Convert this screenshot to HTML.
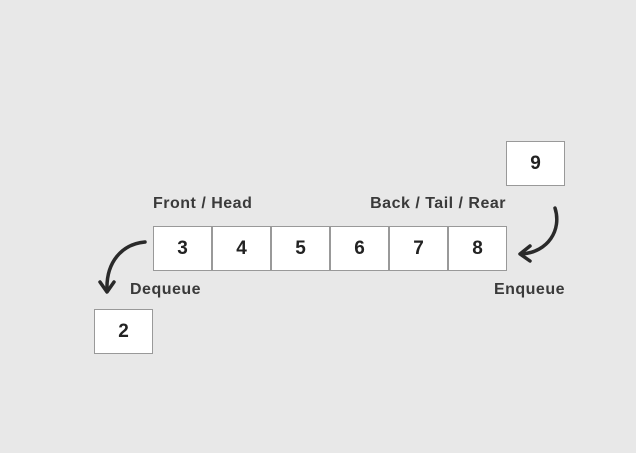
<!DOCTYPE html>
<html><head><meta charset="utf-8"><style>
body{margin:0;width:636px;height:453px;background:#e8e8e8;position:relative;overflow:hidden;font-family:"Liberation Sans",sans-serif;color:#2e2e2e}
.b{position:absolute;width:57px;height:43px;background:#fff;border:1px solid #999;box-sizing:content-box;display:flex;align-items:center;justify-content:center;font-size:19px;font-weight:bold;color:#222}
.t{position:absolute;font-size:16px;font-weight:bold;color:#3a3a3a;white-space:nowrap;letter-spacing:0.5px}
</style></head><body>
<div class="t" style="left:153px;top:195px">Front / Head</div>
<div class="t" style="right:130px;top:195px">Back / Tail / Rear</div>
<div class="t" style="left:130px;top:281px">Dequeue</div>
<div class="t" style="right:71px;top:281px">Enqueue</div>
<div class="b" style="left:153px;top:226px">3</div>
<div class="b" style="left:212px;top:226px">4</div>
<div class="b" style="left:271px;top:226px">5</div>
<div class="b" style="left:330px;top:226px">6</div>
<div class="b" style="left:389px;top:226px">7</div>
<div class="b" style="left:448px;top:226px">8</div>
<div class="b" style="left:94px;top:309px">2</div>
<div class="b" style="left:506px;top:141px">9</div>
<svg width="636" height="453" style="position:absolute;left:0;top:0">
<g fill="none" stroke="#2a2a2a" stroke-width="3.5" stroke-linecap="round" stroke-linejoin="round">
<path d="M145,242 C122,244 106,262 107,290"/>
<path d="M100,282 L107,292 L114,282"/>
<path d="M555,208 C562,230 548,252 522,254"/>
<path d="M530,246 L520,254 L530,261"/>
</g></svg>
</body></html>
